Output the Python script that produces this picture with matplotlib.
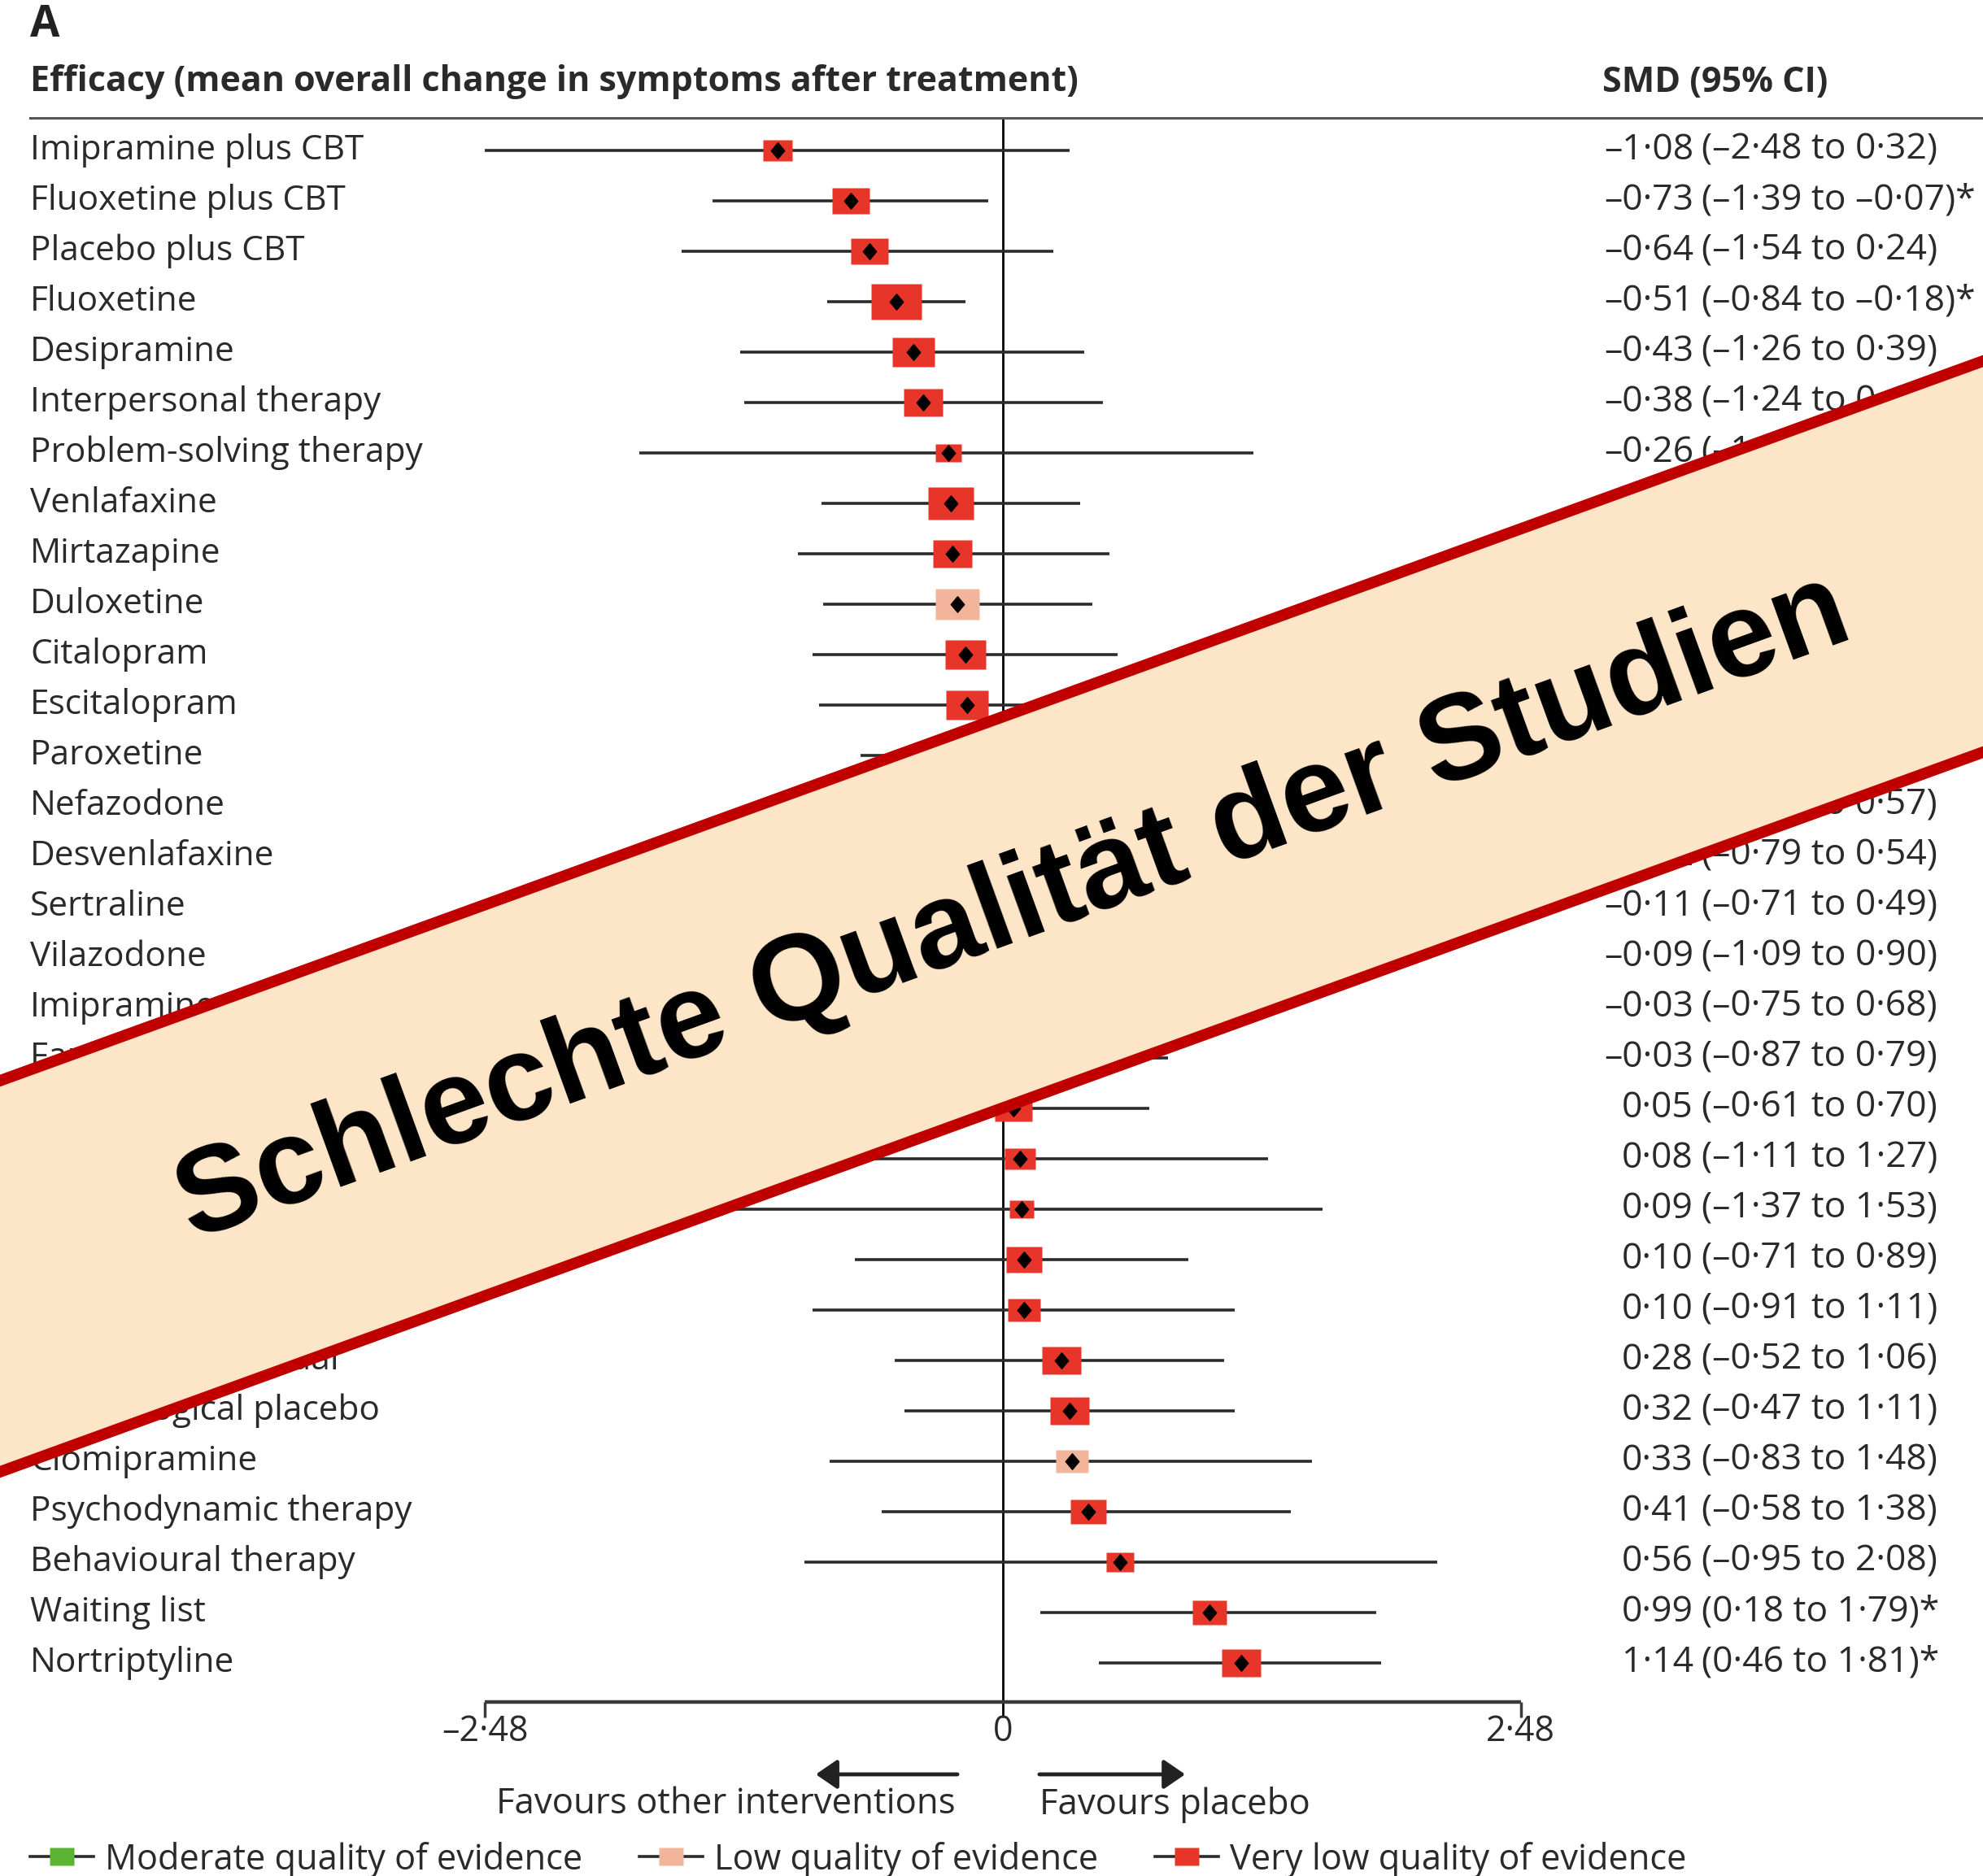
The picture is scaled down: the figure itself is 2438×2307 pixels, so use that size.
import numpy as np
import matplotlib
matplotlib.use("Agg")
from matplotlib import pyplot as plt
from matplotlib.path import Path
from matplotlib.lines import Line2D
from matplotlib.patches import Polygon
from matplotlib.transforms import blended_transform_factory

# Forest plot: SMD vs pill placebo, with "poor quality" banner on top

labels = ["Imipramine plus CBT", "Fluoxetine plus CBT", "Placebo plus CBT", "Fluoxetine",
          "Desipramine", "Interpersonal therapy", "Problem-solving therapy", "Venlafaxine",
          "Mirtazapine", "Duloxetine", "Citalopram", "Escitalopram", "Paroxetine",
          "Nefazodone", "Desvenlafaxine", "Sertraline", "Vilazodone", "Imipramine",
          "Family therapy", "Cognitive behavioural therapy", "Amitriptyline",
          "Supportive therapy", "Sertraline plus CBT", "Play therapy", "Treatment as usual",
          "Psychological placebo", "Clomipramine", "Psychodynamic therapy",
          "Behavioural therapy", "Waiting list", "Nortriptyline"]

smd = [-1.08, -0.73, -0.64, -0.51, -0.43, -0.38, -0.26, -0.25, -0.24, -0.22, -0.18,
       -0.17, -0.15, -0.13, -0.12, -0.11, -0.09, -0.03, -0.03, 0.05, 0.08, 0.09, 0.10,
       0.10, 0.28, 0.32, 0.33, 0.41, 0.56, 0.99, 1.14]
ci_lo = [-2.48, -1.39, -1.54, -0.84, -1.26, -1.24, -1.74, -0.87, -0.98, -0.86, -0.91,
         -0.88, -0.68, -0.83, -0.79, -0.71, -1.09, -0.75, -0.87, -0.61, -1.11, -1.37,
         -0.71, -0.91, -0.52, -0.47, -0.83, -0.58, -0.95, 0.18, 0.46]
ci_hi = [0.32, -0.07, 0.24, -0.18, 0.39, 0.48, 1.20, 0.37, 0.51, 0.43, 0.55, 0.54, 0.38,
         0.57, 0.54, 0.49, 0.90, 0.68, 0.79, 0.70, 1.27, 1.53, 0.89, 1.11, 1.06, 1.11,
         1.48, 1.38, 2.08, 1.79, 1.81]
quality = ["very low"] * 31
quality[9] = "low"    # duloxetine
quality[26] = "low"   # clomipramine
# box heights (px)
box_h = [26, 33, 33, 45, 37, 34, 23, 40, 35, 38, 36, 37, 33, 30, 30, 36, 24, 30, 30,
         33, 27, 22, 32, 28, 35, 35, 29, 31, 25, 30, 35]

quality_names = ["Moderate quality of evidence", "Low quality of evidence",
                 "Very low quality of evidence"]
quality_colors = {"moderate": "#5bb431", "low": "#f3b49c", "very low": "#e8352a"}

W, H = 2438, 2307
FONT = "Open Sans"
TXT = "#2a2a2a"
FS = 30.5

fig = plt.figure(figsize=(W / 100, H / 100), dpi=100)
ax = fig.add_axes([0, 0, 1, 1])

# pixel layout -> data scale
x0_px, unit_px = 1233, 256.7
row0_px, row_px = 184.5, 62.0
ax.set_xlim(-x0_px / unit_px, (W - x0_px) / unit_px)
ax.set_ylim((H - row0_px) / row_px, -row0_px / row_px)
ax.axis("off")


def py(p):
    return (p - row0_px) / row_px


blend = blended_transform_factory(ax.transAxes, ax.transData)
rows = np.arange(len(labels))

rect = Path([(-1.4, -1), (1.4, -1), (1.4, 1), (-1.4, 1), (-1.4, -1)], closed=True)
diam = Path([(0, 1), (0.85, 0), (0, -1), (-0.85, 0), (0, 1)], closed=True)

# CI lines
ax.hlines(rows, ci_lo, ci_hi, color="#2b2b2b", lw=2.6, zorder=2)
for i in rows:
    ax.plot(smd[i], i, ls="none", marker=rect, ms=box_h[i] * 1.4 / 1.389,
            mfc=quality_colors[quality[i]], mec="none", zorder=3)
ax.plot(smd, rows, ls="none", marker=diam, ms=14, color="black", zorder=4)

# zero line and axis
ax.vlines(0, py(145), py(2112), color="black", lw=2, zorder=1)
ax.hlines(py(2093), -2.48, 2.48, color="#3a3a3a", lw=3.2)
ax.vlines([-2.48, 2.48], py(2093), py(2112), color="#3a3a3a", lw=2.5)
for v, s in [(-2.48, "–2·48"), (0, "0"), (2.48, "2·48")]:
    ax.text(v, py(2130), s, ha="center", va="center", fontsize=31, family=FONT, color=TXT)

# header
fig.text(37 / W, 1 - 31 / H, "A", ha="left", va="center", fontsize=38,
         fontweight="bold", family=FONT, color="#222")
ax.text(37 / W, py(101), "Efficacy (mean overall change in symptoms after treatment)",
        transform=blend, ha="left", va="center", fontsize=31, fontweight="bold",
        family=FONT, color=TXT)
ax.text(1970 / W, py(101), "SMD (95% CI)", transform=blend, ha="left", va="center",
        fontsize=31, fontweight="bold", family=FONT, color=TXT)
ax.plot([37 / W, 1], [py(145), py(145)], transform=blend, color="#555", lw=2.2,
        clip_on=False)


def fmt(v):
    return f"{v:.2f}".replace(".", "·").replace("-", "–")


for i in rows:
    ax.text(37 / W, i, labels[i], transform=blend, ha="left", va="center",
            fontsize=FS, family=FONT, color=TXT)
    star = "*" if (ci_hi[i] < 0 or ci_lo[i] > 0) else ""
    ax.text(2082 / W, i, fmt(smd[i]), transform=blend, ha="right", va="center",
            fontsize=32, family=FONT, color=TXT)
    ax.text(2092 / W, i, f"({fmt(ci_lo[i])} to {fmt(ci_hi[i])}){star}", transform=blend,
            ha="left", va="center", fontsize=32, family=FONT, color=TXT)

# direction arrows
ya = py(2182)
arrow = dict(arrowstyle="-|>,head_length=0.8,head_width=0.55", lw=3.5, color="#222",
             mutation_scale=20, shrinkA=0, shrinkB=0)
ax.annotate("", xy=(-0.896, ya), xytext=(-0.218, ya), arrowprops=arrow)
ax.annotate("", xy=(0.873, ya), xytext=(0.175, ya), arrowprops=arrow)
ax.text(-0.226, py(2219), "Favours other interventions", ha="right", va="center",
        fontsize=31.5, family=FONT, color=TXT)
ax.text(0.175, py(2219), "Favours placebo", ha="left", va="center",
        fontsize=31.5, family=FONT, color=TXT)

# legend
handles = [Line2D([], [], color="#2b2b2b", lw=2.6, marker=rect, ms=22,
                  mfc=quality_colors[q], mec="none")
           for q in ["moderate", "low", "very low"]]
fig.legend(handles, quality_names, loc="center left", bbox_to_anchor=(37 / W, 1 - 2287 / H),
           ncol=3, frameon=False, borderpad=0, borderaxespad=0, handlelength=1.8,
           handletextpad=0.33, columnspacing=1.6,
           prop={"family": FONT, "size": 31.2}, labelcolor=TXT)

# banner overlay
slope = 0.363
xs = np.array([-150, W + 150])
top = 1329 - slope * xs
bot = 1810 - slope * xs
verts = [(xs[0], top[0]), (xs[1], top[1]), (xs[1], bot[1]), (xs[0], bot[0])]
verts = [(x / W, 1 - y / H) for x, y in verts]
fig.patches.append(Polygon(verts, closed=True, transform=fig.transFigure,
                           facecolor="#fde5c8", edgecolor="#c00000", lw=10, zorder=5))
fig.text(1246 / W, 1 - 1118 / H, "Schlechte Qualität der Studien",
         rotation=np.degrees(np.arctan(slope)), rotation_mode="anchor",
         ha="center", va="center", fontsize=108, fontweight="bold",
         family="Liberation Sans", color="black", zorder=6)

fig.savefig("out.png", dpi=100)
